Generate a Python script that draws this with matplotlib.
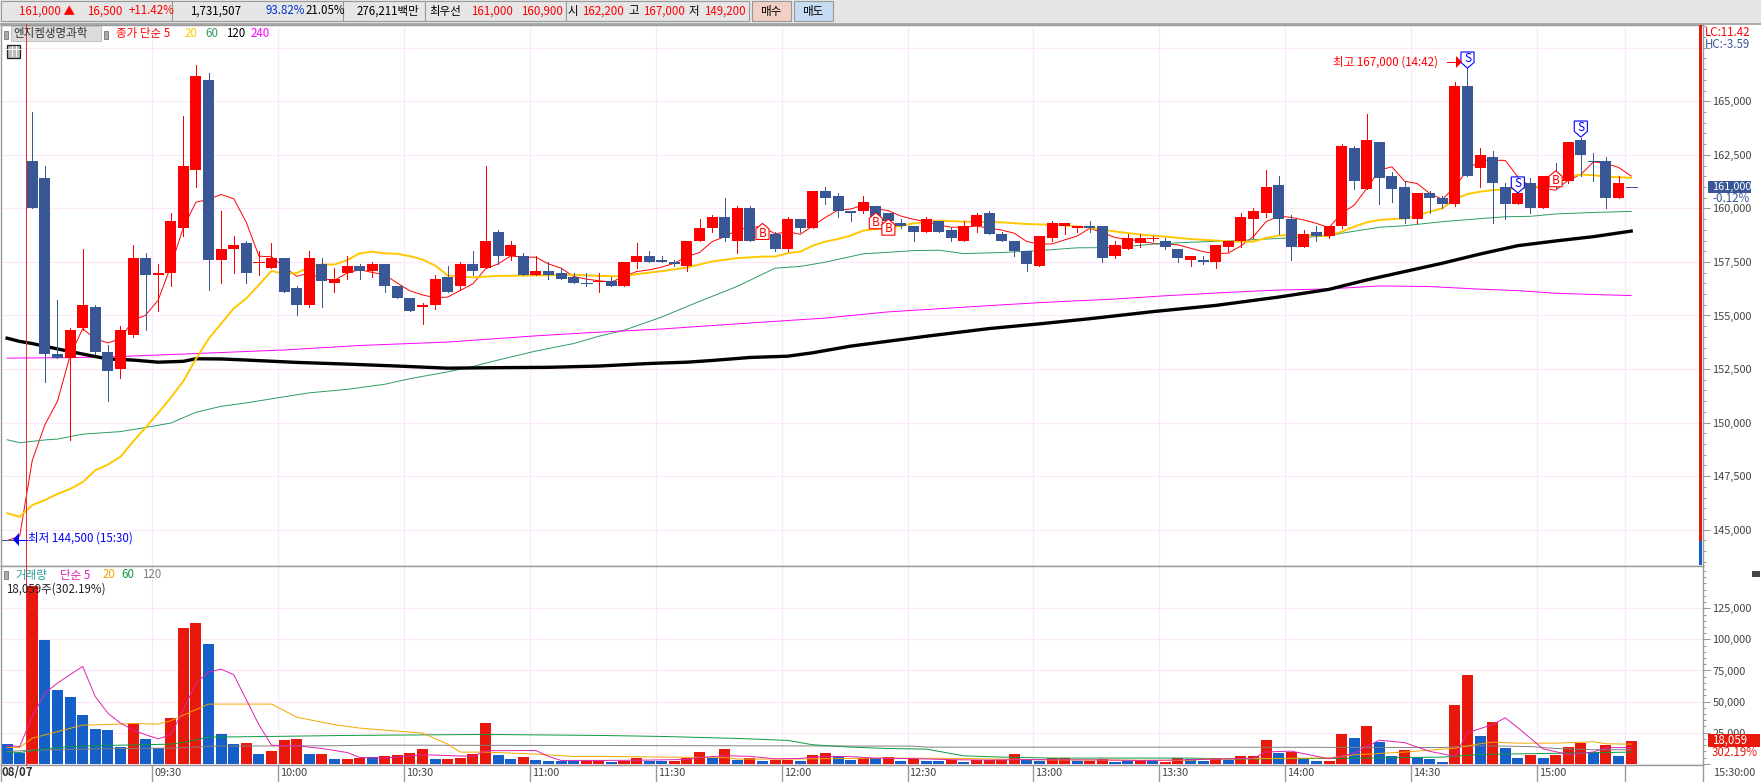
import matplotlib
matplotlib.use('Agg')
import matplotlib.pyplot as plt
from matplotlib.patches import Rectangle, Polygon
from matplotlib.ticker import MultipleLocator

plt.rcParams['font.family'] = ['Noto Sans CJK KR', 'DejaVu Sans']

W, H = 1761, 782
RED = '#ff0000'
BLUE = '#3a5795'
VRED = '#e8190c'
VBLUE = '#1560c8'
GRID_H = '#fce8fb'
GRID_V = '#f8e8f8'
EDGE = '#999999'
LABEL = '#444444'
FS = 8.3
FS_AXIS = 7.9

# candles, first entry is index -2 (two bars before the 09:00 open)
opens = [144500, 144500, 162200, 161400, 153200, 153000, 154400, 155400, 153300, 152500,
         154100, 157700, 156900, 157000, 159100, 161800, 166000, 157600, 158100, 158400,
         157500, 157200, 157700, 156300, 155500, 157400, 156500, 157000, 157300, 157100,
         157400, 156400, 155800, 155400, 155500, 156800, 156400, 157400, 157200, 158900,
         157800, 157800, 156900, 157100, 157000, 156800, 156500, 156600, 156600, 156400,
         157500, 157800, 157600, 157500, 157300, 158500, 159100, 159600, 158500, 160000,
         159000, 158800, 158100, 159500, 159100, 160800, 160600, 159900, 159900, 160100,
         159800, 159300, 159200, 158900, 159400, 159000, 158500, 159200, 159800, 158800,
         158500, 158000, 157300, 158600, 159200, 159100, 159200, 159200, 157800, 158100,
         158400, 158600, 158500, 158100, 157600, 157600, 157500, 158200, 158500, 159500,
         159800, 161100, 159500, 158200, 158900, 158700, 159200, 162800, 160900, 163100,
         161500, 161000, 159500, 160700, 160500, 160200, 165700, 161900, 162400, 161000,
         160200, 161200, 160000, 161500, 161300, 163200, 162200, 162200, 160500, 161000]
highs = [144500, 144500, 164500, 162000, 155700, 154400, 158100, 155500, 153600, 154500,
         158300, 157900, 157400, 159800, 164300, 166700, 166300, 159900, 158700, 158500,
         158000, 158400, 157700, 156400, 158000, 157700, 157200, 157800, 157400, 157500,
         157400, 156400, 155800, 155600, 156900, 157300, 157500, 158000, 162000, 159000,
         158500, 157900, 157800, 157500, 157200, 157000, 157000, 157000, 156800, 157500,
         158400, 158000, 157800, 157600, 158500, 159500, 159700, 160500, 160100, 160100,
         159300, 158900, 159600, 159500, 160800, 161000, 160700, 159900, 160600, 160100,
         159800, 159500, 159200, 159600, 159400, 159100, 159400, 159800, 159900, 158900,
         158500, 158000, 158700, 159400, 159300, 159200, 159400, 159200, 158500, 158800,
         158800, 158700, 158600, 158100, 157800, 157800, 158300, 158500, 159800, 160000,
         161800, 161500, 159700, 159000, 159200, 159200, 163000, 162900, 164400, 163100,
         161700, 161300, 160700, 160800, 160600, 165900, 167000, 162800, 162700, 161200,
         160700, 161400, 161500, 162100, 163100, 163300, 162600, 162400, 161500, 161000]
lows = [144500, 144500, 160000, 151900, 153000, 149200, 154300, 153200, 151000, 152100,
        154000, 154300, 155200, 156400, 158700, 161000, 156200, 156500, 157000, 156500,
        156900, 157200, 156100, 155000, 155400, 155400, 156100, 156700, 156700, 156800,
        156100, 155800, 155200, 154600, 155300, 156100, 156200, 156900, 157200, 157400,
        157600, 156900, 156900, 156700, 156700, 156500, 156400, 156100, 156400, 156400,
        157200, 157500, 157500, 157300, 157100, 158500, 158900, 158500, 157900, 158500,
        158600, 158000, 158000, 158900, 159100, 160200, 159600, 159400, 159800, 159600,
        159400, 159100, 158500, 158900, 158900, 158500, 158500, 158900, 158800, 158500,
        157800, 157100, 157300, 158500, 158800, 158900, 158900, 157500, 157700, 158100,
        158200, 158500, 158100, 157500, 157300, 157400, 157200, 158000, 158200, 158600,
        159600, 158800, 157600, 158200, 158500, 158600, 159100, 160900, 160900, 160200,
        160300, 159300, 159300, 159800, 160000, 160100, 161500, 161000, 159300, 159500,
        160200, 159800, 160000, 160900, 161200, 161500, 161300, 160000, 160500, 161000]
closes = [144500, 144500, 160000, 153200, 153000, 154300, 155500, 153300, 152400, 154300,
          157700, 156900, 157000, 159400, 162000, 166200, 157600, 158100, 158300, 157000,
          157500, 157700, 156100, 155500, 157700, 156600, 156700, 157300, 157100, 157400,
          156400, 155800, 155200, 155500, 156700, 156100, 157400, 157100, 158500, 157800,
          158300, 156900, 157100, 156900, 156700, 156500, 156500, 156600, 156400, 157500,
          157800, 157500, 157500, 157400, 158500, 159100, 159600, 158600, 160000, 158500,
          158800, 158100, 159500, 159100, 160800, 160500, 159900, 159800, 160300, 159600,
          159400, 159200, 158900, 159500, 158900, 158600, 159200, 159700, 158800, 158500,
          158000, 157400, 158700, 159300, 159300, 159200, 159100, 157700, 158300, 158600,
          158600, 158600, 158200, 157700, 157800, 157500, 158300, 158500, 159600, 159900,
          161000, 159500, 158200, 158800, 158700, 159200, 162900, 161300, 163200, 161400,
          160900, 159500, 160700, 160500, 160200, 165700, 161500, 162500, 161200, 160200,
          160700, 160000, 161500, 161200, 163100, 162500, 162200, 160500, 161200, 161000]
doji_down = [-2, 44, 124, 127]

ma5 = [144490, 144700, 148240, 149900, 151000, 153120, 154380, 153910, 153720, 153910,
       154780, 155010, 155720, 157300, 159110, 160290, 160420, 160650, 160450, 159350,
       157770, 157740, 157270, 156830, 156980, 156720, 156640, 156980, 157140, 157010,
       156900, 156510, 156150, 155960, 155830, 155860, 156170, 156480, 157180, 157410,
       157780, 157720, 157720, 157410, 157210, 156820, 156700, 156620, 156560, 156820,
       157050, 157130, 157260, 157440, 157750, 157940, 158450, 158680, 158990, 159120,
       159150, 158810, 158910, 158790, 159180, 159580, 159920, 159970, 160150, 160000,
       159890, 159640, 159490, 159380, 159220, 159120, 159120, 159180, 159070, 158990,
       158840, 158450, 158330, 158340, 158530, 158710, 159070, 158870, 158640, 158560,
       158480, 158370, 158330, 158300, 158140, 157980, 157890, 157910, 158250, 158680,
       159380, 159640, 159580, 159460, 159300, 159100, 159770, 160150, 160930, 161790,
       161940, 161270, 161160, 160700, 160420, 161010, 161790, 162250, 162250, 162240,
       161470, 161010, 160930, 160850, 161320, 161580, 162170, 162100, 161910, 161510]
ma5_x = list(range(-2, 128))

ma20_x = [-2, -1, 0, 1, 2, 3, 4, 5, 6, 7, 8, 9, 10, 11, 12, 13, 14, 15, 16, 17, 18, 19,
          20, 21, 22, 23, 24, 25, 26, 27, 28, 29, 30, 31, 32, 33, 35, 37, 40, 43, 45, 47,
          48, 50, 52, 54, 56, 58, 59, 60, 61, 62, 63, 64, 65, 66, 67, 68, 70, 72, 74, 77,
          79, 82, 84, 86, 88, 90, 92, 94, 95, 97, 98, 99, 100, 102, 103, 104, 105, 106,
          107, 108, 109, 110, 111, 112, 113, 114, 115, 116, 117, 119, 121, 122, 123, 124,
          125, 127]
ma20 = [145770, 145600, 146150, 146380, 146670, 146900, 147220, 147770, 148040, 148400,
        149110, 149770, 150450, 151160, 151940, 152970, 153910, 154620, 155330, 155800,
        156430, 157080, 156940, 156980, 157270, 157380, 157380, 157580, 157900, 157980,
        157900, 157880, 157770, 157610, 157330, 156870, 156780, 156850, 156870, 156900,
        156850, 156820, 156930, 157070, 157240, 157520, 157680, 157750, 157750, 157910,
        157980, 158260, 158450, 158570, 158730, 158960, 159040, 159070, 159300, 159430,
        159380, 159350, 159270, 159210, 159100, 158920, 158780, 158680, 158570, 158500,
        158450, 158450, 158620, 158730, 158760, 158730, 158710, 158910, 159150, 159350,
        159460, 159500, 159530, 159660, 159850, 160000, 160440, 160670, 160780, 160850,
        160890, 160960, 161170, 161480, 161580, 161550, 161480, 161430]

ma60_x = [-2, -1, 1, 2, 4, 7, 9, 11, 13, 15, 17, 19, 22, 25, 28, 30, 33, 35, 37, 40, 43,
          45, 47, 50, 53, 56, 59, 61, 63, 66, 68, 70, 72, 74, 77, 80, 83, 86, 89, 92, 95,
          98, 101, 103, 104, 107, 109, 112, 115, 117, 119, 121, 124, 127]
ma60 = [149200, 149060, 149190, 149230, 149460, 149580, 149770, 149980, 150480, 150760,
        150920, 151110, 151390, 151550, 151790, 152050, 152370, 152620, 152920, 153340,
        153690, 154030, 154310, 154930, 155660, 156360, 157210, 157290, 157490, 157880,
        157950, 158030, 158050, 157890, 157940, 158030, 158160, 158170, 158330, 158420,
        158480, 158570, 158650, 158710, 158840, 159120, 159190, 159380, 159520, 159610,
        159630, 159740, 159810, 159860]

ma120_x = [-2, -1, 0, 2, 4, 6, 8, 10, 12, 13, 15, 17, 21, 25, 29, 33, 36, 41, 45, 49, 52,
           54, 57, 60, 62, 65, 68, 71, 76, 80, 84, 89, 94, 99, 103, 106, 109, 112, 115,
           118, 121, 124, 127]
ma120 = [153940, 153790, 153690, 153440, 153200, 152970, 152920, 152820, 152860, 152980,
         152970, 152920, 152810, 152730, 152640, 152540, 152560, 152580, 152640, 152760,
         152820, 152900, 153040, 153100, 153260, 153570, 153800, 154030, 154390, 154610,
         154850, 155180, 155470, 155860, 156220, 156660, 157050, 157440, 157870, 158260,
         158480, 158680, 158940]

ma240_x = [-2, 3, 7, 12, 20, 26, 33, 40, 44, 50, 57, 63, 68, 76, 80, 86, 90, 95, 99, 103,
           107, 111, 115, 118, 121, 124, 127]
ma240 = [153010, 153030, 153090, 153200, 153390, 153600, 153760, 154050, 154190, 154370,
         154650, 154880, 155170, 155460, 155600, 155770, 155920, 156080, 156190, 156240,
         156380, 156350, 156230, 156160, 156040, 155980, 155930]

volume = [16100, 8300, 143000, 99700, 59500, 53900, 39400, 28100, 27300, 13900,
          32700, 20100, 12600, 37000, 109300, 113400, 96500, 24100, 16100, 16900,
          8000, 10500, 19300, 20100, 8000, 8000, 4000, 4000, 4800, 5400,
          6400, 7200, 8800, 12100, 4000, 4000, 4800, 8000, 33000, 7200,
          4000, 5600, 3200, 2400, 2400, 2400, 2400, 2400, 1600, 2400,
          4800, 2400, 1900, 2400, 4800, 9600, 4800, 12100, 3200, 4800,
          2400, 3200, 3200, 2400, 7200, 8800, 6400, 3200, 4800, 4800,
          5600, 2400, 4000, 2400, 2400, 3200, 1600, 3200, 3200, 3200,
          8000, 3200, 2400, 4500, 4500, 2400, 2400, 3700, 1600, 2400,
          2400, 2400, 1600, 4500, 3700, 2400, 4800, 3200, 6400, 6400,
          19300, 8300, 9100, 4000, 2400, 2400, 24100, 20900, 30600, 17700,
          6400, 11300, 5600, 4000, 1600, 47400, 71600, 22500, 33800, 12900,
          4800, 7200, 4800, 7200, 13700, 16900, 9600, 15300, 6400, 18059]
vol_side = ('bbrbbbbbbb' 'rbbrrrbbbr' 'brrrbrbrrb' 'rrrrbrrrrb' 'brbbbbrrbr' 'rbbrrrbrbr' 'brrbrrbbrb'
            'rbrbbrbrrr' 'rbbrrbrrbb' 'rbrrbbrbrr' 'rbrbbrrbrb' 'brbbbrrbrb' 'brbrrrbrbr')

vma5_x = [-2, -1, 0, 1, 2, 3, 4, 5, 6, 7, 8, 9, 10, 11, 12, 13, 14, 15, 16, 17, 18, 19, 20,
          21, 23, 25, 26, 28, 31, 32, 35, 36, 40, 41, 42, 45, 47, 49, 52, 53, 55, 57, 59,
          61, 63, 65, 67, 70, 73, 76, 79, 82, 85, 88, 91, 94, 97, 98, 100, 103, 105, 107,
          109, 111, 113, 114, 116, 117, 118, 120, 122, 124, 125, 127]
vma5 = [14700, 13900, 38000, 56800, 64900, 71600, 78300, 54100, 40700, 32700, 27300, 23300,
        20100, 23300, 43400, 64900, 73700, 76100, 71600, 51500, 31400, 15000, 14500, 14500,
        12300, 9100, 5100, 4600, 7200, 7000, 5900, 10500, 10700, 5900, 2700, 2700, 2800,
        3000, 3500, 5000, 6500, 6000, 4000, 4300, 6000, 5800, 4500, 4200, 3300, 3000, 3400,
        3200, 3100, 2700, 3000, 3800, 4500, 9500, 10200, 4000, 8500, 19000, 17000, 10000,
        6000, 25000, 31500, 37000, 29000, 12000, 7500, 9500, 13000, 13000]

vma20_x = [-2, -1, 0, 4, 6, 8, 10, 11, 14, 19, 21, 24, 26, 28, 31, 33, 34, 36, 40, 43, 46,
           50, 55, 56, 60, 68, 74, 80, 92, 93, 99, 103, 105, 109, 113, 115, 116, 118, 121,
           124, 125, 127]
vma20 = [13100, 13100, 20600, 31100, 31600, 32400, 31900, 34600, 48000, 48000, 37500, 31400,
         28700, 27100, 24700, 15800, 9400, 9400, 7800, 5900, 5900, 5400, 5100, 3800, 3800,
         4600, 4300, 3200, 2700, 3800, 4300, 4800, 7200, 9400, 12600, 16100, 17400, 16600,
         16600, 17700, 16100, 15800]

vma60_x = [-2, -1, 2, 4, 7, 11, 12, 14, 19, 25, 36, 45, 50, 56, 60, 62, 65, 68, 71, 74, 77,
           81, 92, 95, 103, 112, 115, 120, 127]
vma60 = [9400, 9100, 13100, 14200, 15000, 15800, 17200, 21400, 22000, 22800, 23600, 22800,
         22000, 20400, 18800, 15300, 13400, 12300, 11800, 6400, 5400, 4600, 4600, 3800, 4300,
         5400, 7500, 8300, 9400]

vma120_x = [-2, 0, 7, 11, 13, 14, 24, 27, 45, 70, 71, 92, 112, 114, 115, 119, 121, 124, 127]
vma120 = [9900, 11000, 12300, 12600, 13400, 14200, 14500, 15000, 14700, 14200, 13400, 13400,
          13100, 14200, 14500, 13900, 12300, 11300, 11300]

price_ticks = [145000, 147500, 150000, 152500, 155000, 157500, 160000, 162500, 165000, 167500]
price_labels = ['145,000', '147,500', '150,000', '152,500', '155,000', '157,500', '160,000',
                '162,500', '165,000', '']
vol_ticks = [0, 25000, 50000, 75000, 100000, 125000]
vol_labels = ['', '25,000', '50,000', '75,000', '100,000', '125,000']

time_idx = [10, 20, 30, 40, 50, 60, 70, 80, 90, 100, 110, 120, 127]
time_labels = ['09:30', '10:00', '10:30', '11:00', '11:30', '12:00', '12:30', '13:00', '13:30',
               '14:00', '14:30', '15:00', '']

buy_marks = [(58, 159300), (67, 159800), (68, 159500), (121, 161760)]
sell_marks = [(114, 166550), (118, 160720), (123, 163330)]

# px = 32.3 + 12.59 * i, used only to fix the axis limits
xlim = (-2.486, 132.73)
GRID_OFF = 0.477
THIN = 0.5
LINE = 0.7


def axes_box(top, bottom):
    return [1 / W, 1 - bottom / H, (1703.3 - 1) / W, (bottom - top) / H]


def style_axis(ax, ticks, labels, minor):
    ax.set_xlim(*xlim)
    ax.yaxis.tick_right()
    ax.set_yticks(ticks)
    ax.set_yticklabels(labels, fontsize=FS_AXIS, color=LABEL)
    ax.yaxis.set_minor_locator(MultipleLocator(minor))
    ax.tick_params(axis='y', which='major', length=5, width=0.72, color=EDGE, pad=1.5)
    ax.tick_params(axis='y', which='minor', length=2.2, width=0.72, color=EDGE)
    ax.set_xticks([t - GRID_OFF for t in time_idx])
    ax.grid(True, axis='y', color=GRID_H, lw=0.9)
    ax.grid(True, axis='x', color=GRID_V, lw=0.9)
    ax.set_axisbelow(True)
    for s in ax.spines.values():
        s.set_color(EDGE)
        s.set_linewidth(1.0)


fig = plt.figure(figsize=(W / 100, H / 100), dpi=100, facecolor='white')

# price panel
ax = fig.add_axes(axes_box(24.5, 566))
ax.set_ylim(143305, 168585)
style_axis(ax, price_ticks, price_labels, 500)
ax.tick_params(axis='x', length=0, labelbottom=False)

xs = list(range(-2, 128))
ax.plot(ma5_x, ma5, color='#ff0000', lw=LINE, zorder=2)
ax.plot(ma60_x, ma60, color='#2e9b62', lw=LINE, zorder=2)
ax.plot(ma240_x, ma240, color='#ff00ff', lw=LINE, zorder=2)
ax.plot(ma120_x, ma120, color='#000000', lw=2.4, zorder=2)
ax.plot(ma20_x, ma20, color='#ffc800', lw=1.4, zorder=2)

for x, o, h, l, c in zip(xs, opens, highs, lows, closes):
    col = BLUE if (c < o or x in doji_down) else RED
    ax.vlines(x, l, h, color=col, lw=THIN, zorder=3, antialiased=False)
    if o == c:
        ax.hlines(o, x - 0.44, x + 0.44, color=col, lw=THIN, zorder=3, antialiased=False)
    else:
        ax.bar(x, abs(c - o), bottom=min(o, c), width=0.875, color=col, lw=0, zorder=3,
               antialiased=False)

DX, DY = 0.52, 750


def draw_mark(x, p, letter, col, up):
    s = 1 if up else -1
    pts = [(x, p), (x + DX, p - s * DY * 0.35), (x + DX, p - s * DY),
           (x - DX, p - s * DY), (x - DX, p - s * DY * 0.35)]
    ax.add_patch(Polygon(pts, closed=True, facecolor='white', edgecolor=col, lw=0.8, zorder=5))
    ax.text(x, p - s * DY * 0.6, letter, color=col if up else '#0000ff', fontsize=8.5,
            ha='center', va='center', zorder=6)


for x, p in buy_marks:
    draw_mark(x, p, 'B', RED, True)
for x, p in sell_marks:
    draw_mark(x, p, 'S', '#0000ff', False)

# volume panel
av = fig.add_axes(axes_box(566, 765))
av.set_ylim(-965, 159000)
style_axis(av, vol_ticks, vol_labels, 5000)
av.tick_params(axis='x', length=12, width=1.0, color=EDGE, labelbottom=False)

av.bar(xs, volume, width=0.875, color=[VRED if s == 'r' else VBLUE for s in vol_side],
       lw=0, zorder=2, antialiased=False)
av.plot(vma120_x, vma120, color='#808080', lw=LINE, zorder=3)
av.plot(vma60_x, vma60, color='#0a9a3c', lw=LINE, zorder=3)
av.plot(vma20_x, vma20, color='#f0a800', lw=LINE, zorder=3)
av.plot(vma5_x, vma5, color='#e020b0', lw=LINE, zorder=3)

for t, s in zip(time_idx, time_labels):
    av.text(t - GRID_OFF + 0.15, -0.04, s, transform=av.get_xaxis_transform(), fontsize=FS_AXIS,
            color=LABEL, ha='left', va='center')

# window chrome and overlays, in pixel coordinates
ov = fig.add_axes([0, 0, 1, 1], zorder=10)
ov.set_xlim(0, W)
ov.set_ylim(H, 0)
ov.axis('off')
ov.patch.set_visible(False)


def put(x, y, s, color='black', **kw):
    kw.setdefault('fontsize', FS)
    ov.text(x, y, s, color=color, ha=kw.pop('ha', 'left'), va='center', **kw)


def box(x0, y0, x1, y1, face, edge='none', lw=1.0):
    ov.add_patch(Rectangle((x0, y0), x1 - x0, y1 - y0, facecolor=face, edgecolor=edge, lw=lw))


box(0, 0, W, 23, '#e6e6e6')
ov.plot([0, W], [24, 24], color=EDGE, lw=1.2)
for x0, x1 in [(1, 172), (172, 343), (343, 425), (425, 566), (566, 749)]:
    box(x0, 0.5, x1, 20.5, '#e6e6e6', EDGE, 0.8)
box(752, 0.5, 791, 20.5, '#f2cfc4', EDGE, 0.8)
box(794, 0.5, 833, 20.5, '#c5dcf2', EDGE, 0.8)

header = [(19, '161,000 ▲', RED), (87, '16,500', RED), (128.5, '+11.42%', RED),
          (190, '1,731,507', 'black'), (265, '93.82%', '#0033cc'), (306, '21.05%', 'black'),
          (357, '276,211백만', 'black'), (429, '최우선', 'black'), (471, '161,000', RED),
          (521, '160,900', RED), (568, '시', 'black'), (582, '162,200', RED), (628, '고', 'black'),
          (643, '167,000', RED), (689, '저', 'black'), (704, '149,200', RED), (760, '매수', 'black'),
          (802, '매도', 'black')]
for x, s, c in header:
    put(x, 11, s, c)

# legend rows
box(4, 31, 8, 39, '#aaaaaa', '#777777', 0.6)
box(11, 26, 101, 41, '#dcdcdc', '#bbbbbb', 0.6)
put(13, 33.5, '엔지켐생명과학', '#333333')
box(104, 31, 108, 39, '#aaaaaa', '#777777', 0.6)
for x, s, c in [(115.6, '종가 단순 5', RED), (185, '20', '#ffc800'), (205, '60', '#2e9b62'),
                (226, '120', 'black'), (251, '240', '#ff00ff')]:
    put(x, 33.5, s, c)

box(7, 44.5, 20, 57.5, '#bbbbbb', '#222222', 0.9)
ov.plot([7, 20], [49, 49], color='white', lw=0.7)
ov.plot([11.5, 11.5], [46, 56], color='white', lw=0.7)
ov.plot([15.5, 15.5], [46, 56], color='white', lw=0.7)

box(4, 571, 8, 579, '#aaaaaa', '#777777', 0.6)
for x, s, c in [(15, '거래량', '#2a9d9d'), (60, '단순 5', '#e020b0'), (102.5, '20', '#f0a800'),
                (121.7, '60', '#0a9a3c'), (142, '120', '#808080')]:
    put(x, 575, s, c)
put(5.7, 589, '18,059주(302.19%)', '#222222')

# day start line and right hand strip
ov.plot([26.3, 26.3], [24, 765], color='#e83030', lw=THIN, antialiased=False)
box(1699, 24.5, 1702, 541, VRED)
box(1699, 541, 1702, 565, VBLUE)
ov.plot([1703.3, 1703.3], [765, 782], color=EDGE, lw=1.0)
ov.plot([1, 1], [765, 782], color=EDGE, lw=1.0)

put(1704.7, 32, 'LC:11.42', RED)
put(1704.7, 44, 'HC:-3.59', BLUE)
box(1708, 180.7, 1751, 192.5, BLUE)
put(1712, 186.5, '161,000', 'white', fontsize=FS_AXIS)
put(1712, 198, '-0.12%', BLUE)
box(1708, 734, 1760, 746.7, VRED)
put(1712, 740, '18,059', 'white')
put(1712, 752, '302.19%', VRED)
box(1752, 571, 1760, 577, '#444444')

put(2, 773, '08/07', '#333333', fontweight='bold')
put(1712.7, 773, '15:30:00', LABEL, fontsize=FS_AXIS)

# high and low callouts
put(1332.7, 61.7, '최고 167,000 (14:42)', RED)
ov.plot([1447, 1457], [62, 62], color=RED, lw=THIN, antialiased=False)
ov.add_patch(Polygon([(1456, 56), (1462, 62), (1456, 68)], closed=True, facecolor=RED))
put(27.7, 538, '최저 144,500 (15:30)', '#0000ff')
ov.plot([18, 27], [539.6, 539.6], color='#0000ff', lw=THIN, antialiased=False)
ov.add_patch(Polygon([(13, 539.6), (19, 533), (19, 546)], closed=True, facecolor='#0000ff'))

fig.savefig('out.png', dpi=100)
